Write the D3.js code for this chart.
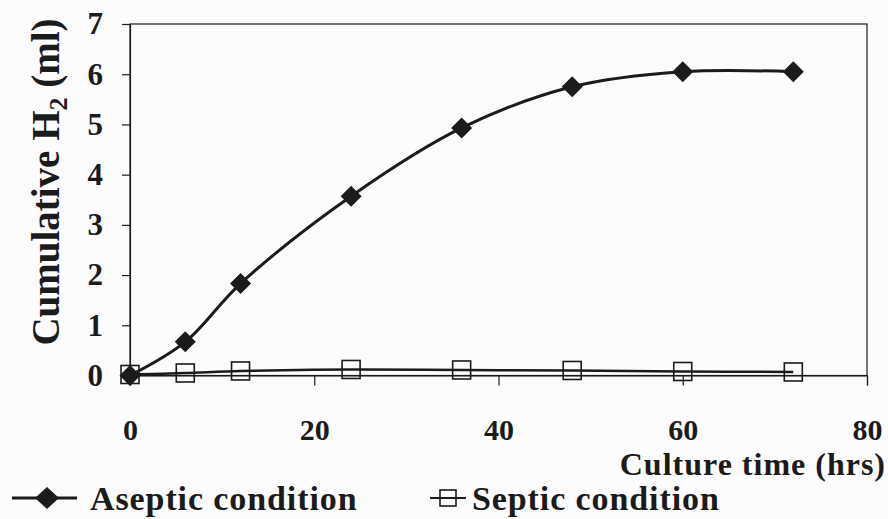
<!DOCTYPE html>
<html>
<head>
<meta charset="utf-8">
<script src="https://cdn.jsdelivr.net/npm/d3@7"></script>
<style>
  body { margin: 0; background: #fcfcfd; }
</style>
</head>
<body>
<div class="chart-section"></div>
<script>
const hours = [0, 6, 12, 24, 36, 48, 60, 72];
const aseptic = [0, 0.67, 1.83, 3.57, 4.93, 5.75, 6.05, 6.05];
const septic = [0.02, 0.05, 0.09, 0.12, 0.11, 0.1, 0.08, 0.07];
const xTicks = [0, 20, 40, 60, 80];
const yTicks = [0, 1, 2, 3, 4, 5, 6, 7];
const seriesNames = ["Aseptic condition", "Septic condition"];

const width = 888;
const height = 519;
const ink = "#1b1b1b";
const serif = "'Liberation Serif', 'Times New Roman', serif";

const svg = d3
  .select(".chart-section")
  .append("svg")
  .attr("width", width)
  .attr("height", height)
  .style("display", "block");

const x = d3.scaleLinear().domain([0, 80]).range([130, 867]);
const y = d3.scaleLinear().domain([0, 7]).range([375.5, 24]);

// frame
svg
  .append("rect")
  .attr("x", x(0))
  .attr("y", y(7))
  .attr("width", x(80) - x(0))
  .attr("height", y(0) - y(7))
  .attr("fill", "none")
  .attr("stroke", ink)
  .attr("stroke-width", 1.2);

const yAxis = svg
  .append("g")
  .attr("transform", `translate(${x(0)},0)`)
  .call(
    d3.axisLeft(y).tickValues(yTicks).tickFormat(d3.format("d")).tickSize(8).tickPadding(19)
  );

const xAxis = svg
  .append("g")
  .attr("transform", `translate(0,${y(0)})`)
  .call(
    d3.axisBottom(x).tickValues(xTicks).tickFormat(d3.format("d")).tickSize(10).tickPadding(33)
  );

[xAxis, yAxis].forEach((g) => {
  g.select(".domain").attr("stroke", ink).attr("stroke-width", 1.2);
  g.selectAll(".tick line").attr("stroke", ink).attr("stroke-width", 1.2);
  g.selectAll(".tick text")
    .attr("fill", ink)
    .style("font-family", serif)
    .style("font-weight", "bold");
});
yAxis.selectAll(".tick text").style("font-size", "31px");
xAxis.selectAll(".tick text").style("font-size", "30px");

const line = d3
  .line()
  .x((d) => x(d[0]))
  .y((d) => y(d[1]))
  .curve(d3.curveCatmullRom.alpha(0.5));

const septicPts = hours.map((h, i) => [h, septic[i]]);
const asepticPts = hours.map((h, i) => [h, aseptic[i]]);

svg
  .append("path")
  .datum(septicPts)
  .attr("d", line)
  .attr("fill", "none")
  .attr("stroke", ink)
  .attr("stroke-width", 2.5);

svg
  .selectAll(".sq")
  .data(septicPts)
  .join("rect")
  .attr("class", "sq")
  .attr("x", (d) => x(d[0]) - 9)
  .attr("y", (d) => y(d[1]) - 9)
  .attr("width", 18)
  .attr("height", 18)
  .attr("fill", "none")
  .attr("stroke", ink)
  .attr("stroke-width", 1.6);

svg
  .append("path")
  .datum(asepticPts)
  .attr("d", line)
  .attr("fill", "none")
  .attr("stroke", ink)
  .attr("stroke-width", 3);

const diamond = (cx, cy, rx, ry) =>
  `M${cx},${cy - ry}L${cx + rx},${cy}L${cx},${cy + ry}L${cx - rx},${cy}Z`;

svg
  .selectAll(".dm")
  .data(asepticPts)
  .join("path")
  .attr("class", "dm")
  .attr("d", (d) => diamond(x(d[0]), y(d[1]), 10.5, 10.5))
  .attr("fill", ink);

const label = (sel, size) =>
  sel
    .attr("fill", ink)
    .style("font-family", serif)
    .style("font-weight", "bold")
    .style("font-size", size + "px");

// axis titles
svg
  .append("text")
  .attr("transform", "translate(59,182) rotate(-90)")
  .attr("text-anchor", "middle")
  .call(label, 39)
  .call((t) => {
    t.append("tspan").text("Cumulative H");
    t.append("tspan").style("font-size", "26px").attr("dy", 8).text("2");
    t.append("tspan").attr("dy", -8).text(" (ml)");
  });

svg
  .append("text")
  .attr("x", 886)
  .attr("y", 475)
  .attr("text-anchor", "end")
  .call(label, 32)
  .attr("letter-spacing", 1)
  .text("Culture time (hrs)");

// legend
const legend = svg.append("g").attr("transform", "translate(0,498)");

legend
  .append("line")
  .attr("x1", 12)
  .attr("x2", 77)
  .attr("stroke", ink)
  .attr("stroke-width", 3);
legend.append("path").attr("d", diamond(47, 0, 12, 11)).attr("fill", ink);
legend
  .append("text")
  .attr("x", 90)
  .attr("y", 12)
  .call(label, 34)
  .attr("letter-spacing", 0.9)
  .text(seriesNames[0]);

legend
  .append("line")
  .attr("x1", 430)
  .attr("x2", 466)
  .attr("stroke", ink)
  .attr("stroke-width", 2);
legend
  .append("rect")
  .attr("x", 440)
  .attr("y", -8)
  .attr("width", 16)
  .attr("height", 16)
  .attr("fill", "#fcfcfd")
  .attr("stroke", ink)
  .attr("stroke-width", 1.6);
legend
  .append("line")
  .attr("x1", 440)
  .attr("x2", 456)
  .attr("stroke", ink)
  .attr("stroke-width", 2);
legend
  .append("text")
  .attr("x", 472)
  .attr("y", 12)
  .call(label, 34)
  .attr("letter-spacing", 0.9)
  .text(seriesNames[1]);
</script>
</body>
</html>
